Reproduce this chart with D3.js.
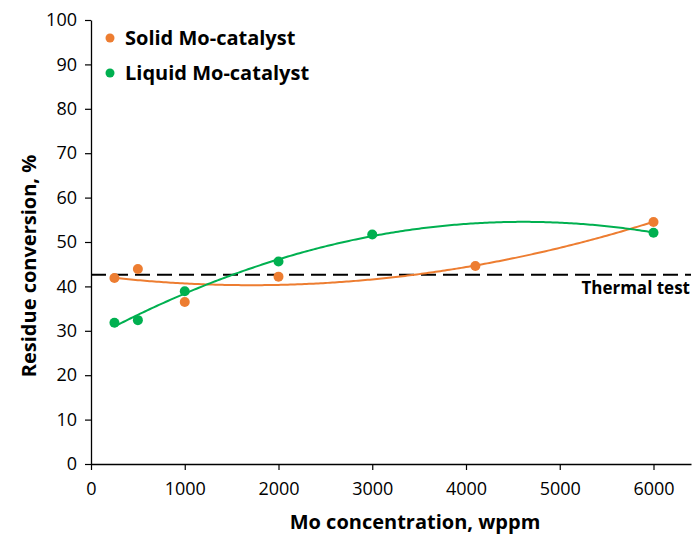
<!DOCTYPE html>
<html>
<head>
<meta charset="utf-8">
<script src="https://cdn.jsdelivr.net/npm/d3@7"></script>
<style>
  body { margin: 0; background: #fff; }
  text { font-family: "Open Sans", sans-serif; fill: #000; }
</style>
</head>
<body>
<script>
var width = 694;
var height = 535;

// data
var solidX = [250, 500, 1000, 2000, 4100, 6000];
var solidY = [41.9, 43.9, 36.5, 42.2, 44.6, 54.5];
var liquidX = [250, 500, 1000, 2000, 3000, 6000];
var liquidY = [31.8, 32.4, 38.9, 45.6, 51.7, 52.1];
var thermal = 42.6;
var xTicks = [0, 1000, 2000, 3000, 4000, 5000, 6000];
var yTicks = [0, 10, 20, 30, 40, 50, 60, 70, 80, 90, 100];

var orange = "#ED7D31";
var green = "#00B050";

var svg = d3.select("body").append("svg")
  .attr("width", width)
  .attr("height", height);

var x = d3.scaleLinear().domain([0, 6400]).range([91, 691]);
var y = d3.scaleLinear().domain([0, 100]).range([464, 20]);

// y axis
var yAxis = svg.append("g")
  .attr("transform", "translate(91,0)")
  .call(d3.axisLeft(y).tickValues(yTicks).tickSize(6).tickPadding(8).tickSizeOuter(0));
yAxis.select(".domain").attr("stroke", "#000").attr("stroke-width", 1.3);
yAxis.selectAll(".tick line").attr("stroke", "#000").attr("stroke-width", 1.2);
yAxis.selectAll(".tick text").attr("font-size", 18).attr("fill", "#222").attr("font-family", "Open Sans");

// x axis
var xAxis = svg.append("g")
  .attr("transform", "translate(0,464)")
  .call(d3.axisBottom(x).tickValues(xTicks).tickSize(6).tickPadding(12).tickSizeOuter(0).tickFormat(d3.format("d")));
xAxis.select(".domain").attr("stroke", "#000").attr("stroke-width", 1.3);
xAxis.selectAll(".tick line").attr("stroke", "#000").attr("stroke-width", 1.2);
xAxis.selectAll(".tick text").attr("font-size", 18).attr("fill", "#222").attr("font-family", "Open Sans");

// thermal test reference line
svg.append("line")
  .attr("x1", x(0)).attr("x2", x(6400))
  .attr("y1", y(thermal)).attr("y2", y(thermal))
  .attr("stroke", "#000")
  .attr("stroke-width", 2)
  .attr("stroke-dasharray", "15,7");

svg.append("text")
  .attr("x", 690).attr("y", 294)
  .attr("text-anchor", "end")
  .attr("font-size", 17).attr("font-weight", "bold")
  .text("Thermal test");

// 2nd order polynomial trendline (least squares), x in thousands
function polyFit(xs, ys) {
  var n = xs.length, s = [0, 0, 0, 0, 0], t = [0, 0, 0];
  for (var i = 0; i < n; i++) {
    var xi = xs[i] / 1000;
    for (var k = 0; k < 5; k++) s[k] += Math.pow(xi, k);
    for (var k = 0; k < 3; k++) t[k] += ys[i] * Math.pow(xi, k);
  }
  var m = [[s[0], s[1], s[2], t[0]], [s[1], s[2], s[3], t[1]], [s[2], s[3], s[4], t[2]]];
  for (var c = 0; c < 3; c++) {
    for (var r = c + 1; r < 3; r++) {
      var f = m[r][c] / m[c][c];
      for (var k = c; k < 4; k++) m[r][k] -= f * m[c][k];
    }
  }
  var a = [0, 0, 0];
  for (var r = 2; r >= 0; r--) {
    var v = m[r][3];
    for (var k = r + 1; k < 3; k++) v -= m[r][k] * a[k];
    a[r] = v / m[r][r];
  }
  return function(xv) { var q = xv / 1000; return a[0] + a[1] * q + a[2] * q * q; };
}

function drawSeries(xs, ys, color) {
  var f = polyFit(xs, ys);
  var pts = d3.range(xs[0], xs[xs.length - 1] + 1, 25);
  svg.append("path")
    .attr("d", d3.line().x(function(d) { return x(d); }).y(function(d) { return y(f(d)); })(pts))
    .attr("fill", "none")
    .attr("stroke", color)
    .attr("stroke-width", 2);
  svg.selectAll(null)
    .data(xs)
    .enter()
    .append("circle")
    .attr("cx", function(d) { return x(d); })
    .attr("cy", function(d, i) { return y(ys[i]); })
    .attr("r", 5)
    .attr("fill", color);
}

drawSeries(solidX, solidY, orange);
drawSeries(liquidX, liquidY, green);

// legend
var legend = [["Solid Mo-catalyst", orange], ["Liquid Mo-catalyst", green]];
legend.forEach(function(l, i) {
  svg.append("circle").attr("cx", 110).attr("cy", 38 + i * 35).attr("r", 4.5).attr("fill", l[1]);
  svg.append("text")
    .attr("x", 125).attr("y", 45 + i * 35)
    .attr("font-size", 20).attr("font-weight", "bold")
    .text(l[0]);
});

// axis titles
svg.append("text")
  .attr("x", 415).attr("y", 529)
  .attr("text-anchor", "middle")
  .attr("font-size", 20).attr("font-weight", "bold")
  .text("Mo concentration, wppm");

svg.append("text")
  .attr("transform", "translate(36,266) rotate(-90)")
  .attr("text-anchor", "middle")
  .attr("font-size", 20).attr("font-weight", "bold")
  .text("Residue conversion, %");
</script>
</body>
</html>
